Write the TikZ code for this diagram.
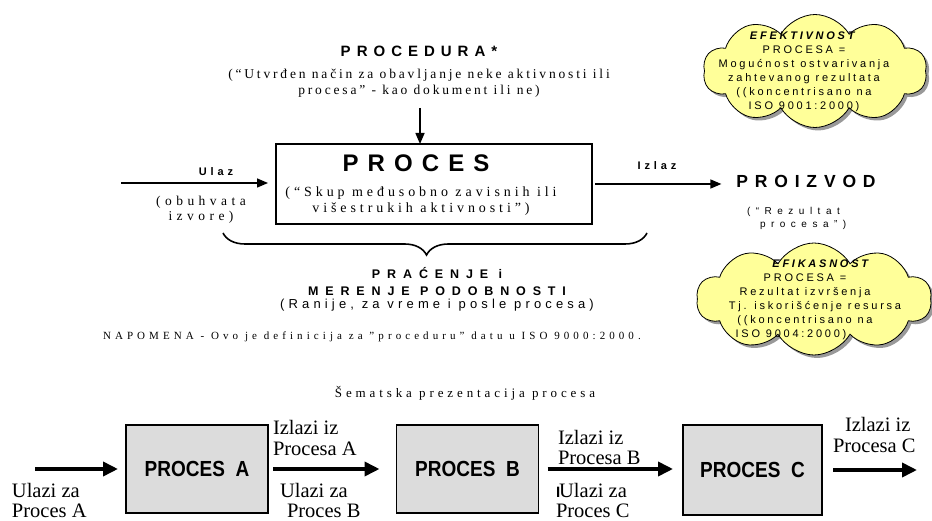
\documentclass[tikz,border=0pt]{standalone}
\usepackage{fontspec}
\setmainfont{Liberation Serif}
\setsansfont{Liberation Sans}
\usetikzlibrary{arrows.meta,shapes.symbols,shadows,decorations.pathreplacing}
\definecolor{cloudyellow}{HTML}{FFFF99}
\definecolor{boxgray}{HTML}{DCDCDC}
\newcommand{\fsz}[2]{\fontsize{#1}{#2}\selectfont}
\newcommand{\trk}[1]{\addfontfeature{LetterSpace=#1}}
\newcommand{\tall}[1]{\scalebox{1}[1.15]{#1}}

\begin{document}
\begin{tikzpicture}[x=1pt,y=-1pt,
    every node/.style={inner sep=0pt,outer sep=0pt},
    thinarrow/.style={-{Triangle[length=11pt,width=9pt]},line width=1.5pt},
    fatarrow/.style={-{Triangle[length=15pt,width=14pt]},line width=3.6pt},
    grayproc/.style={draw,line width=1.6pt,fill=boxgray,minimum width=142pt,minimum height=88pt,
      font=\sffamily\bfseries\fsz{19}{19}},
    thought/.style={cloud,cloud puffs=10,cloud puff arc=120,cloud ignores aspect,draw,line width=0.8pt,
      fill=cloudyellow,drop shadow={shadow xshift=3pt,shadow yshift=-3pt,opacity=1,fill=black!40}},
    cloudtxt/.style={align=center,font=\sffamily\fsz{11}{14}\trk{25}},
    lbl/.style={align=left,anchor=west,font=\fsz{20.5}{20.5}}]
  \useasboundingbox (0,0) rectangle (932,521);

  \node[font=\sffamily\bfseries\fsz{15}{15}\trk{40}] (procedura) at (419,51) {PROCEDURA*};
  \node[align=center,font=\fsz{13.5}{16}\trk{21}] (procopis) at (419,83)
    {(“Utvrđen način za obavljanje neke aktivnosti ili\\procesa” - kao dokument ili ne)};
  \coordinate (procstart) at (420,108);

  \node[draw,line width=1.6pt,minimum width=316pt,minimum height=80pt] (proces) at (434,184) {};
  \node[font=\sffamily\bfseries\fsz{24}{24}\trk{38}] (procesnaslov) at (416,163) {PROCES};
  \node[align=center,font=\fsz{14}{16}\trk{28}] (procesopis) at (421,201)
    {(“Skup međusobno zavisnih ili\\višestrukih aktivnosti")};

  \coordinate (ulazstart) at (121,183);
  \node[font=\sffamily\bfseries\fsz{11}{11}\trk{35}] (ulaz) at (216,172) {Ulaz};
  \node[align=center,font=\fsz{13.5}{15.5}\trk{33}] (izvori) at (201,210) {(obuhvata\\izvore)};

  \node[font=\sffamily\bfseries\fsz{11}{11}\trk{35}] (izlaz) at (657,166) {Izlaz};
  \node[font=\sffamily\bfseries\fsz{17.5}{17.5}\trk{39}] (proizvod) at (806,181) {PROIZVOD};
  \node[align=left,anchor=north west,font=\sffamily\fsz{10}{13}\trk{55}] (rezultat) at (747,207)
    {(“Rezultat\\\hspace*{13pt}procesa")};

  \coordinate (bracel) at (223,233);
  \coordinate (bracer) at (647,233);
  \node[align=center,font=\sffamily\bfseries\fsz{12.5}{17}\trk{55}] (pracenje) at (437,282)
    {PRAĆENJE i\\MERENJE PODOBNOSTI};
  \node[font=\sffamily\fsz{13}{13}\trk{32}] (ranije) at (437,305) {(Ranije, za vreme i posle procesa)};
  \node[anchor=west,font=\fsz{11}{11}\trk{37}] (napomena) at (103,337)
    {NAPOMENA - Ovo je definicija za "proceduru" datu u ISO 9000:2000.};
  \node[font=\fsz{13}{13}\trk{30}] (sema) at (465,393) {Šematska prezentacija procesa};

  \node[thought,minimum width=224pt,minimum height=113pt] (efektivnost) at (815,71) {};
  \node[cloudtxt] (efektxt) at (804,72)
    {\textbf{\textit{EFEKTIVNOST}}\\PROCESA =\\Mogućnost ostvarivanja\\zahtevanog rezultata\\((koncentrisano na\\ISO 9001:2000)};
  \node[thought,minimum width=235pt,minimum height=112pt] (efikasnost) at (814,299) {};
  \node[cloudtxt] (efiktxt) at (805,300)
    {\hspace*{34pt}\textbf{\textit{EFIKASNOST}}\\PROCESA =\\Rezultat izvršenja\hspace*{18pt}\\\hspace*{20pt}Tj. iskorišćenje resursa\\((koncentrisano na\hspace*{48pt}\\ISO 9004:2000)\hspace*{28pt}};

  \node[grayproc] (procA) at (197,469) {\tall{PROCES\ \ A}};
  \node[grayproc] (procB) at (467.5,469) {\tall{PROCES\ \ B}};
  \node[grayproc,minimum width=139pt,minimum height=90pt] (procC) at (752.5,470) {\tall{PROCES\ \ C}};
  \coordinate (ulazA) at (35,469);
  \coordinate (izlazC) at (917,470);

  \node[lbl] (ulaziA) at (12,500.5) {Ulazi za\\Proces A};
  \node[lbl] (izlaziA) at (273,438) {Izlazi iz\\Procesa A};
  \node[lbl] (ulaziB) at (280,500.5) {Ulazi za\\\hspace*{7pt}Proces B};
  \node[lbl] (izlaziB) at (558,447.5) {Izlazi iz\\Procesa B};
  \node[lbl] (ulaziC) at (556,500.5) {{\sffamily\bfseries\fsz{15}{15}I}\kern-1ptUlazi za\\Proces C};
  \node[lbl] (izlaziC) at (833,435) {\hspace*{12pt}Izlazi iz\\Procesa C};

  \begin{scope}[thinarrow]
    \draw (procstart) -- (procstart |- proces.north);
    \draw[shorten >=8pt] (ulazstart) -- (ulazstart -| proces.west);
    \draw[shorten <=3pt,shorten >=15pt] (proces.east) -- (proces.east -| proizvod.west);
  \end{scope}
  \draw[line width=1.6pt,decorate,decoration={brace,mirror,amplitude=22pt,aspect=0.48}] (bracel) -- (bracer);
  \begin{scope}[fatarrow]
    \draw[shorten >=8pt] (ulazA) -- (ulazA -| procA.west);
    \draw[shorten <=5pt,shorten >=17pt] (procA) -- (procB);
    \draw[shorten <=9pt,shorten >=10pt] (procB) -- (procC.west |- procB);
    \draw[shorten <=11pt] (procC.east) -- (izlazC);
  \end{scope}
\end{tikzpicture}
\end{document}
